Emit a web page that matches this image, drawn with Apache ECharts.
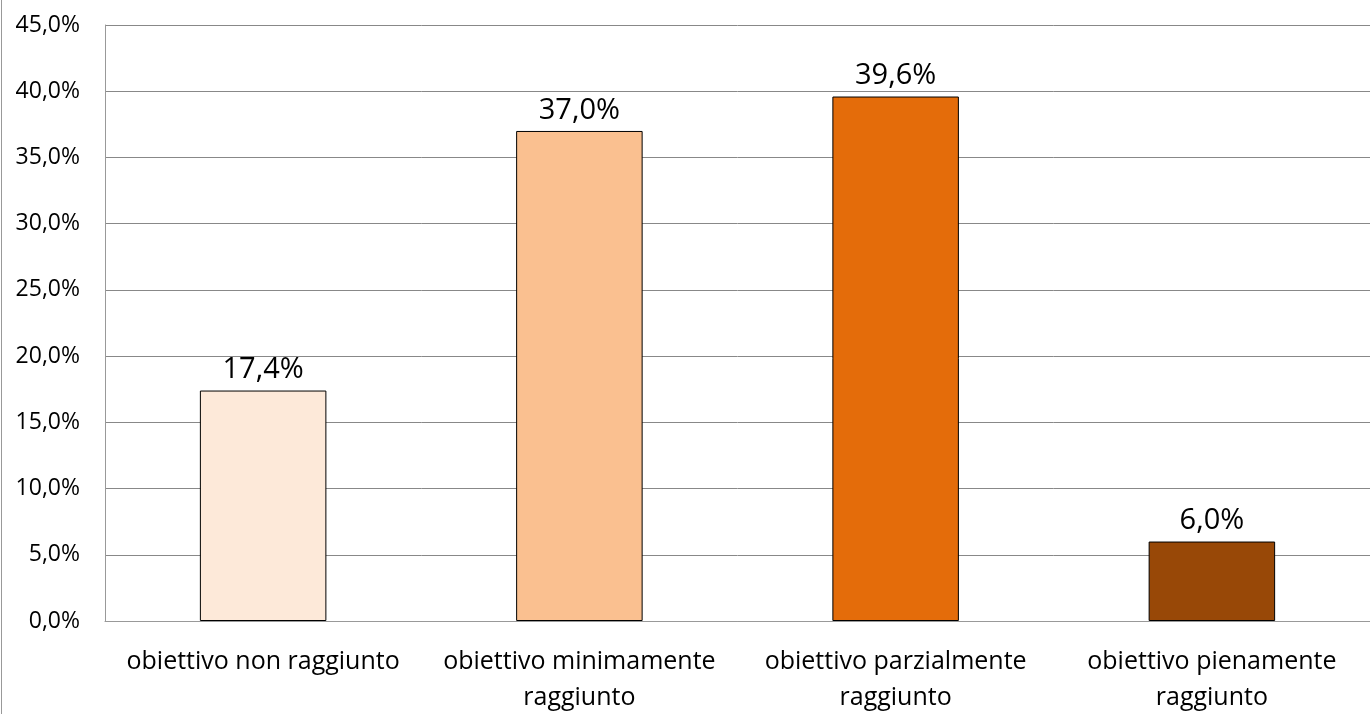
<!DOCTYPE html>
<html>
<head>
<meta charset="utf-8">
<script src="https://cdn.jsdelivr.net/npm/echarts@6/dist/echarts.min.js"></script>
<style>
html,body{margin:0;padding:0;background:#fff;}
#chart{width:1370px;height:714px;}
</style>
</head>
<body>
<div id="chart"></div>
<script>
var categories = ['obiettivo non raggiunto', 'obiettivo minimamente\nraggiunto', 'obiettivo parzialmente\nraggiunto', 'obiettivo pienamente\nraggiunto'];
var values = [17.4, 37.0, 39.6, 6.0];
var barColors = ['#FDE9D9', '#FAC090', '#E46C0A', '#984807'];

function pct(v){ return v.toFixed(1).replace('.', ',') + '%'; }

var chart = echarts.init(document.getElementById('chart'));
chart.setOption({
  animation: false,
  textStyle: { fontFamily: 'Open Sans' },
  graphic: [{
    type: 'line',
    shape: { x1: 1.5, y1: 0, x2: 1.5, y2: 714 },
    style: { stroke: '#999', lineWidth: 1 }
  }],
  grid: { left: 105, right: 0, top: 25, bottom: 93, containLabel: false, outerBoundsMode: 'none' },
  xAxis: {
    type: 'category',
    data: categories,
    axisLine: { show: true, lineStyle: { color: '#999', width: 1 } },
    axisTick: { show: false },
    axisLabel: { color: '#000', fontSize: 25, lineHeight: 36, margin: 23, interval: 0 }
  },
  yAxis: {
    type: 'value',
    min: 0, max: 45, interval: 5,
    axisLine: { show: true, lineStyle: { color: '#999', width: 1 } },
    axisTick: { show: false },
    splitLine: { show: true, lineStyle: { color: '#888', width: 1 } },
    axisLabel: { color: '#000', fontSize: 23, margin: 25, formatter: function(v){ return pct(v); } }
  },
  series: [{
    type: 'bar',
    barWidth: '40%',
    data: values.map(function(v, i){ return { value: v, itemStyle: { color: barColors[i] } }; }),
    itemStyle: { borderColor: '#000', borderWidth: 1 },
    label: { show: true, position: 'top', distance: 6, color: '#000', fontSize: 29, formatter: function(p){ return pct(p.value); } }
  }]
});
</script>
</body>
</html>
